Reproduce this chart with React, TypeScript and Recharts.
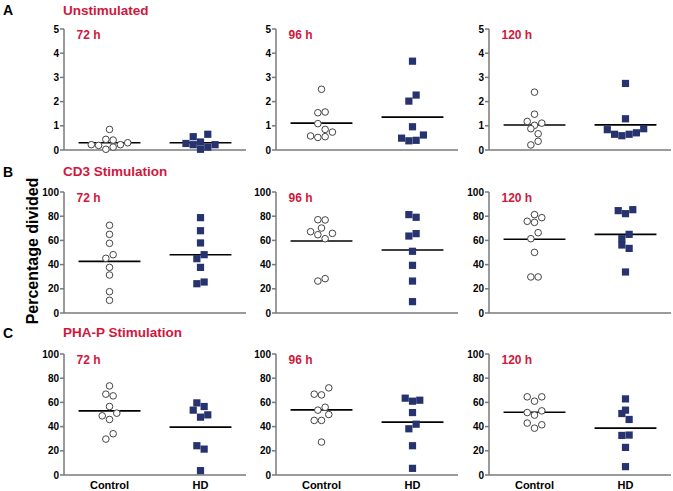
import { ScatterChart, Scatter, XAxis, YAxis, ReferenceLine } from 'recharts';

const groups = ['Control', 'HD'];
const timepoints = ['72 h', '96 h', '120 h'];
const rowTitles = ['Unstimulated', 'CD3 Stimulation', 'PHA-P Stimulation'];
const rowLetters = ['A', 'B', 'C'];
const unstimTicks = [0, 1, 2, 3, 4, 5];
const stimTicks = [0, 20, 40, 60, 80, 100];

// A - unstimulated
const unstim72Control = [0.85, 0.44, 0.41, 0.22, 0.19, 0.22, 0.3, 0.03, 0.12];
const unstim72ControlX = [0, -0.04, 0.04, -0.2, -0.12, 0.12, 0.2, -0.04, 0.04];
const unstim72HD = [0.55, 0.65, 0.27, 0.22, 0.33, 0.22, 0.03, 0.12];
const unstim72HDX = [-0.08, 0.08, -0.16, -0.08, 0, 0.16, 0, 0.08];

const unstim96Control = [2.51, 1.54, 1.57, 1.09, 0.85, 0.74, 0.58, 0.52, 0.55];
const unstim96ControlX = [0, -0.04, 0.04, -0.04, 0.04, 0.12, -0.12, -0.04, 0.04];
const unstim96HD = [3.67, 2.27, 2.02, 0.96, 0.62, 0.49, 0.38, 0.4];
const unstim96HDX = [0, 0.04, -0.04, 0, 0.12, -0.12, -0.04, 0.04];

const unstim120Control = [2.39, 1.48, 1.18, 1.11, 1.02, 0.88, 0.67, 0.36, 0.21];
const unstim120ControlX = [0, 0, -0.08, 0.08, 0, -0.04, 0.04, 0.04, -0.04];
const unstim120HD = [2.75, 1.29, 0.84, 0.88, 0.65, 0.59, 0.65, 0.71];
const unstim120HDX = [0, 0, -0.2, 0.2, -0.12, -0.04, 0.04, 0.12];

const unstimMedians = [[0.3, 0.3], [1.11, 1.36], [1.03, 1.04]];

// B - CD3
const cd372Control = [72.5, 65.0, 57.6, 48.2, 45.2, 37.7, 31.4, 17.6, 10.5];
const cd372ControlX = [0, 0, 0, 0.04, -0.04, 0, 0, 0, 0];
const cd372HD = [78.8, 68.0, 57.9, 48.2, 44.9, 37.7, 25.6, 24.2];
const cd372HDX = [0, 0, 0, 0.04, -0.04, 0, 0.04, -0.04];

const cd396Control = [77.1, 76.9, 70.2, 67.2, 64.7, 65.8, 61.4, 26.4, 28.4];
const cd396ControlX = [-0.04, 0.04, 0, -0.12, -0.04, 0.12, 0.04, -0.04, 0.04];
const cd396HD = [81.3, 79.1, 63.6, 65.6, 51.0, 39.4, 26.4, 9.4];
const cd396HDX = [-0.04, 0.04, -0.04, 0.04, 0, 0, 0, 0];

const cd3120Control = [81.3, 78.8, 75.8, 74.9, 66.4, 61.4, 50.1, 29.8, 29.8];
const cd3120ControlX = [0, 0.08, -0.08, 0, 0.04, -0.04, 0, -0.04, 0.04];
const cd3120HD = [84.6, 82.1, 85.4, 65.0, 61.4, 56.2, 53.4, 33.9];
const cd3120HDX = [-0.08, 0, 0.08, 0.04, -0.04, -0.04, 0.04, 0];

const cd3Medians = [[42.7, 48.2], [59.5, 52.1], [60.9, 65.0]];

// C - PHA-P
const pha72Control = [73.6, 66.8, 65.4, 56.6, 48.9, 51.1, 45.9, 34.1, 29.7];
const pha72ControlX = [0, -0.04, 0.04, 0, -0.08, 0.08, 0, 0.04, -0.04];
const pha72HD = [59.6, 56.6, 53.6, 47.8, 49.7, 24.2, 21.4, 3.6];
const pha72HDX = [-0.04, 0.04, -0.08, 0, 0.08, -0.04, 0.04, 0];

const pha96Control = [72.0, 66.8, 66.2, 56.0, 53.6, 50.0, 45.1, 45.1, 27.2];
const pha96ControlX = [0.08, -0.08, 0, 0.04, -0.04, 0.08, -0.08, 0, 0];
const pha96HD = [63.5, 61.0, 61.8, 51.6, 42.0, 38.2, 24.2, 5.5];
const pha96HDX = [-0.08, 0, 0.08, 0, 0.04, -0.04, 0, 0];

const pha120Control = [64.6, 64.6, 61.0, 51.6, 53.0, 49.5, 42.9, 41.5, 38.7];
const pha120ControlX = [-0.08, 0.08, 0, -0.08, 0.08, 0, -0.08, 0.08, 0];
const pha120HD = [62.9, 53.6, 50.8, 45.9, 32.7, 33.0, 22.8, 6.9];
const pha120HDX = [0, 0, -0.04, 0.04, -0.04, 0.04, 0, 0];

const phaMedians = [[53.0, 39.6], [53.8, 43.7], [51.9, 38.7]];

const rows = [
  {
    ticks: unstimTicks,
    medians: unstimMedians,
    panels: [
      [unstim72Control, unstim72ControlX, unstim72HD, unstim72HDX],
      [unstim96Control, unstim96ControlX, unstim96HD, unstim96HDX],
      [unstim120Control, unstim120ControlX, unstim120HD, unstim120HDX],
    ],
  },
  {
    ticks: stimTicks,
    medians: cd3Medians,
    panels: [
      [cd372Control, cd372ControlX, cd372HD, cd372HDX],
      [cd396Control, cd396ControlX, cd396HD, cd396HDX],
      [cd3120Control, cd3120ControlX, cd3120HD, cd3120HDX],
    ],
  },
  {
    ticks: stimTicks,
    medians: phaMedians,
    panels: [
      [pha72Control, pha72ControlX, pha72HD, pha72HDX],
      [pha96Control, pha96ControlX, pha96HD, pha96HDX],
      [pha120Control, pha120ControlX, pha120HD, pha120HDX],
    ],
  },
];

const FONT = '"Liberation Sans", Arial, sans-serif';
const RED = '#d0173c';
const NAVY = '#27336e';
const AXIS = '#7a7a7a';

const colAxisX = [64, 276, 489];
const rowPlotTop = [29, 192, 354];
const Y_AXIS_W = 34;
const MARGIN_TOP = 4;

const OpenCircle = (props: any) => (
  <circle cx={props.cx} cy={props.cy} r={3.3} fill="#fff" stroke="#444" strokeWidth={1} />
);

const FilledSquare = (props: any) => (
  <rect x={props.cx - 3.6} y={props.cy - 3.6} width={7.2} height={7.2} fill={NAVY} />
);

const Panel = ({ row, col }: { row: number; col: number }) => {
  const r = rows[row];
  const [ctrl, ctrlX, hd, hdX] = r.panels[col];
  const med = r.medians[col];
  const ctrlPts = ctrl.map((y, i) => ({ x: ctrlX[i], y }));
  const hdPts = hd.map((y, i) => ({ x: 1 + hdX[i], y }));
  const bottomRow = row === 2;
  return (
    <div style={{ position: 'absolute', left: colAxisX[col] - Y_AXIS_W, top: rowPlotTop[row] - MARGIN_TOP }}>
      <ScatterChart
        width={218}
        height={bottomRow ? 145 : 133}
        margin={{ top: MARGIN_TOP, right: 2, bottom: bottomRow ? 0 : 6, left: 0 }}
      >
        <XAxis
          type="number"
          dataKey="x"
          domain={[-0.5, 1.5]}
          ticks={[0, 1]}
          interval={0}
          tickFormatter={(v) => groups[v]}
          tickLine={false}
          tickSize={4}
          tickMargin={2}
          tick={bottomRow ? { fill: '#000', fontSize: 11, fontWeight: 'bold', fontFamily: FONT } : false}
          height={bottomRow ? 20 : 2}
          axisLine={{ stroke: AXIS, strokeWidth: 1.5 }}
        />
        <YAxis
          type="number"
          dataKey="y"
          domain={[0, r.ticks[r.ticks.length - 1]]}
          ticks={r.ticks}
          interval={0}
          width={Y_AXIS_W}
          tickSize={4}
          tickMargin={1}
          tickLine={{ stroke: AXIS, strokeWidth: 1.5 }}
          axisLine={{ stroke: AXIS, strokeWidth: 1.5 }}
          tick={{ fill: '#000', fontSize: 10, fontWeight: 'bold', fontFamily: FONT }}
        />
        <ReferenceLine
          segment={[{ x: -0.34, y: med[0] }, { x: 0.34, y: med[0] }]}
          stroke="#000"
          strokeWidth={1.6}
        />
        <ReferenceLine
          segment={[{ x: 0.66, y: med[1] }, { x: 1.34, y: med[1] }]}
          stroke="#000"
          strokeWidth={1.6}
        />
        <Scatter data={ctrlPts} shape={OpenCircle} isAnimationActive={false} />
        <Scatter data={hdPts} shape={FilledSquare} isAnimationActive={false} />
      </ScatterChart>
      <div
        style={{
          position: 'absolute',
          left: Y_AXIS_W + 12.5,
          top: MARGIN_TOP + 0.2,
          fontFamily: FONT,
          fontWeight: 'bold',
          fontSize: 12,
          lineHeight: '12px',
          color: RED,
          whiteSpace: 'nowrap',
        }}
      >
        {timepoints[col]}
      </div>
    </div>
  );
};

const titleTops = [3, 164.5, 325.5];

export default function App() {
  return (
    <div style={{ position: 'absolute', left: 0, top: 0, width: 673, height: 491, background: '#fff', fontFamily: FONT }}>
      {rows.map((_, ri) => (
        <div key={'t' + ri}>
          <div
            style={{
              position: 'absolute',
              left: 3,
              top: titleTops[ri],
              fontSize: 14,
              lineHeight: '14px',
              fontWeight: 'bold',
              color: '#000',
            }}
          >
            {rowLetters[ri]}
          </div>
          <div
            style={{
              position: 'absolute',
              left: 63,
              top: titleTops[ri] + 0.5,
              fontSize: 13.5,
              lineHeight: '14px',
              fontWeight: 'bold',
              color: RED,
              whiteSpace: 'nowrap',
            }}
          >
            {rowTitles[ri]}
          </div>
        </div>
      ))}
      {rows.map((_, ri) => [0, 1, 2].map((ci) => <Panel key={ri + '-' + ci} row={ri} col={ci} />))}
      <div
        style={{
          position: 'absolute',
          left: 33,
          top: 251,
          transform: 'translate(-50%, -50%) rotate(-90deg)',
          fontSize: 16,
          fontWeight: 'bold',
          color: '#000',
          whiteSpace: 'nowrap',
        }}
      >
        Percentage divided
      </div>
    </div>
  );
}
